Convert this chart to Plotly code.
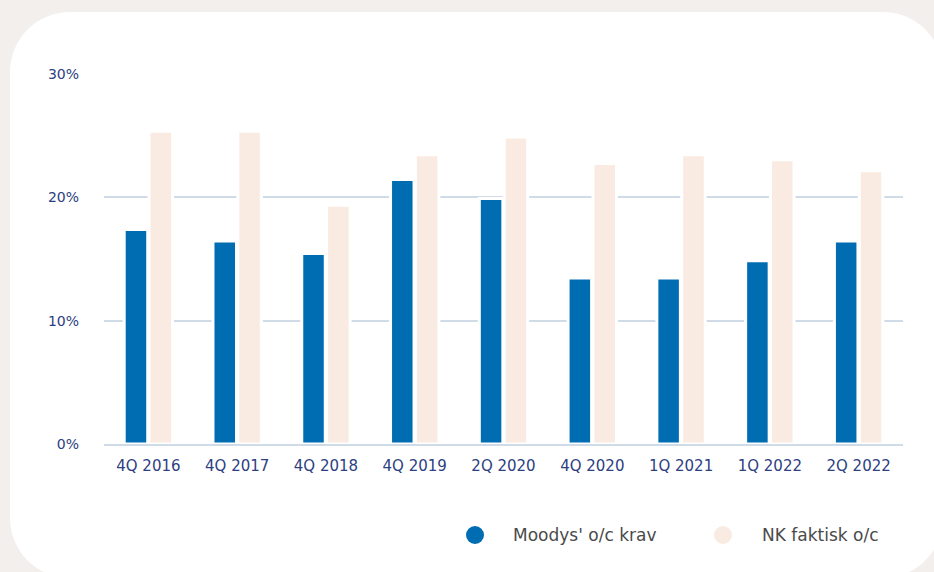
import plotly.graph_objects as go

# ---- data ----
categories = ["4Q 2016", "4Q 2017", "4Q 2018", "4Q 2019", "2Q 2020",
              "4Q 2020", "1Q 2021", "1Q 2022", "2Q 2022"]
moodys_values = [17.4, 16.45, 15.45, 21.45, 19.9, 13.45, 13.45, 14.85, 16.45]
nk_values = [25.35, 25.35, 19.35, 23.45, 24.9, 22.75, 23.45, 23.05, 22.15]
series_names = ["Moodys' o/c krav", "NK faktisk o/c"]
y_tick_values = [0, 10, 20, 30]
y_tick_labels = ["0%", "10%", "20%", "30%"]

# ---- style ----
W, H = 934, 572
L, R, T, B = 104, 31, 74, 128
BLUE = "#006db3"
BEIGE = "#f9ebe1"
GRID = "#cfdbe7"
TICK_COLOR = "#2d4080"
LEGEND_TEXT = "#4a4a4a"
OUTER_BG = "#f3efed"
FONT = "DejaVu Sans"


def px(x):
    return (x - L) / (W - L - R)


def py(y):
    return (H - B - y) / (H - T - B)


fig = go.Figure()
fig.add_trace(go.Bar(x=categories, y=moodys_values, name=series_names[0],
                     marker=dict(color=BLUE, line=dict(color="white", width=3)),
                     showlegend=False))
fig.add_trace(go.Bar(x=categories, y=nk_values, name=series_names[1],
                     marker=dict(color=BEIGE, line=dict(color="white", width=3)),
                     showlegend=False))

# card background (rounded rectangle)
x0, y0, x1, y1, r = 10, 12, 943, 578, 60
k = 0.5523 * r
pts = [
    ("M", [(x0 + r, y0)]),
    ("L", [(x1 - r, y0)]),
    ("C", [(x1 - r + k, y0), (x1, y0 + r - k), (x1, y0 + r)]),
    ("L", [(x1, y1 - r)]),
    ("C", [(x1, y1 - r + k), (x1 - r + k, y1), (x1 - r, y1)]),
    ("L", [(x0 + r, y1)]),
    ("C", [(x0 + r - k, y1), (x0, y1 - r + k), (x0, y1 - r)]),
    ("L", [(x0, y0 + r)]),
    ("C", [(x0, y0 + r - k), (x0 + r - k, y0), (x0 + r, y0)]),
]
path = " ".join(cmd + " " + " ".join(f"{px(a):.5f},{py(b):.5f}" for a, b in p) for cmd, p in pts) + " Z"

shapes = [dict(type="path", path=path, xref="paper", yref="paper",
               fillcolor="white", line=dict(width=0), layer="below")]

# legend (manual)
legend_items = [(475, 511, BLUE), (723, 760, BEIGE)]
annotations = []
ly = 535
for (cx, tx, col), name in zip(legend_items, series_names):
    rad = 9
    shapes.append(dict(type="circle", xref="paper", yref="paper",
                       x0=px(cx - rad), x1=px(cx + rad), y0=py(ly + rad), y1=py(ly - rad),
                       fillcolor=col, line=dict(width=0)))
    annotations.append(dict(x=px(tx), y=py(ly), xref="paper", yref="paper",
                            text=name, showarrow=False, xanchor="left", yanchor="middle",
                            font=dict(family=FONT, size=17, color=LEGEND_TEXT)))

fig.update_layout(
    width=W, height=H,
    margin=dict(l=L, r=R, t=T, b=B, pad=0),
    paper_bgcolor=OUTER_BG,
    plot_bgcolor="rgba(0,0,0,0)",
    barmode="group",
    bargap=0.44,
    bargroupgap=0.054,
    shapes=shapes,
    annotations=annotations,
    showlegend=False,
    font=dict(family=FONT, size=14, color=TICK_COLOR),
    xaxis=dict(
        showgrid=False, showline=True, linecolor=GRID, linewidth=2,
        ticks="", tickfont=dict(family=FONT, size=15, color=TICK_COLOR),
        ticklabelstandoff=7, zeroline=False,
    ),
    yaxis=dict(
        range=[0, 30], tickvals=y_tick_values, ticktext=y_tick_labels,
        showgrid=True, gridcolor=GRID, gridwidth=2, zeroline=False,
        showline=False, ticks="", ticklabelstandoff=24,
        tickfont=dict(family=FONT, size=14, color=TICK_COLOR),
    ),
)

fig.write_html("out.html")
